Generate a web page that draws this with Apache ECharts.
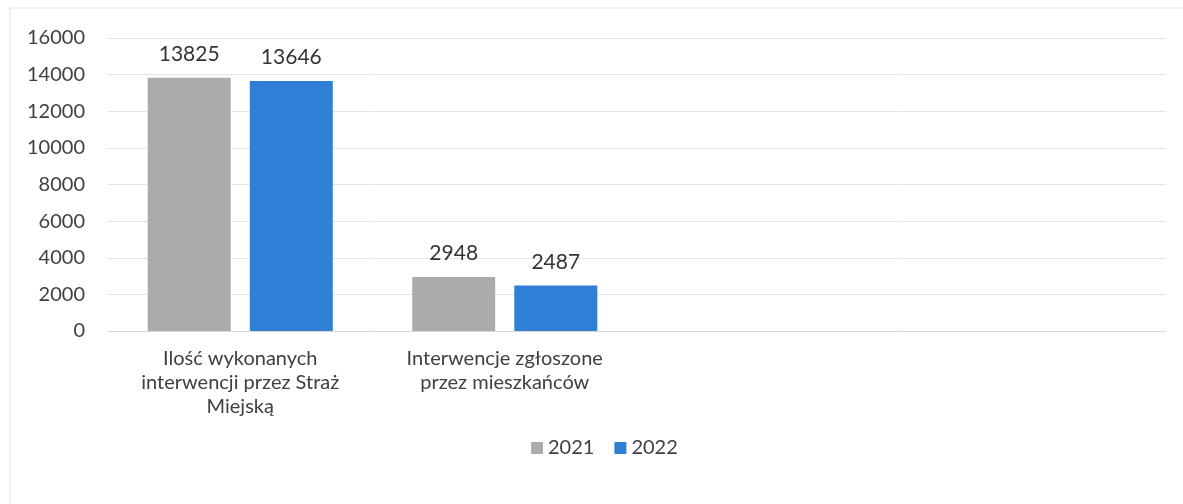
<!DOCTYPE html>
<html>
<head>
<meta charset="utf-8">
<script src="https://cdn.jsdelivr.net/npm/echarts@6/dist/echarts.min.js"></script>
<style>
  html, body { margin: 0; padding: 0; background: #fff; }
  #chart { width: 1183px; height: 504px; }
</style>
</head>
<body>
<div id="chart"></div>
<script>
// dane z wykresu
var categories = ['Ilość wykonanych\ninterwencji przez Straż\nMiejską', 'Interwencje zgłoszone\nprzez mieszkańców', '', ''];
var values2021 = [13825, 2948, null, null];
var values2022 = [13646, 2487, null, null];
var seriesNames = ['2021', '2022'];
var yTicks = { min: 0, max: 16000, interval: 2000 };

var font = 'Lato, "Open Sans", sans-serif';
var chart = echarts.init(document.getElementById('chart'));

var option = {
  backgroundColor: '#fff',
  animation: false,
  graphic: [{
    type: 'rect',
    shape: { x: 10, y: 8, width: 1200, height: 520 },
    style: { fill: 'none', stroke: '#e3e3e3', lineWidth: 1 }
  }],
  grid: { left: 108, right: 17, top: 38, bottom: 173 },
  legend: {
    top: 433,
    left: 526,
    itemWidth: 12,
    itemHeight: 12,
    itemGap: 20,
    icon: 'rect',
    textStyle: { fontFamily: font, fontSize: 20, color: '#404040' },
    data: seriesNames
  },
  xAxis: {
    type: 'category',
    data: categories,
    axisLine: { lineStyle: { color: '#d9d9d9' } },
    axisTick: { show: false },
    axisLabel: {
      interval: 0,
      margin: 16,
      fontFamily: font,
      fontSize: 20,
      lineHeight: 24,
      color: '#404040'
    }
  },
  yAxis: {
    type: 'value',
    min: yTicks.min,
    max: yTicks.max,
    interval: yTicks.interval,
    axisLine: { show: false },
    axisTick: { show: false },
    splitLine: { lineStyle: { color: '#e4e4e4' } },
    axisLabel: {
      margin: 23, fontFamily: font, fontSize: 20, color: '#404040',
      formatter: function (v) { return String(v); }
    }
  },
  series: [
    {
      name: seriesNames[0],
      type: 'bar',
      data: values2021,
      barWidth: 83,
      barGap: '23%',
      itemStyle: { color: '#ababab' },
      label: {
        show: true, position: 'top', distance: 13,
        fontFamily: font, fontSize: 21, color: '#333'
      }
    },
    {
      name: seriesNames[1],
      type: 'bar',
      data: values2022,
      barWidth: 83,
      itemStyle: { color: '#2f7fd6' },
      label: {
        show: true, position: 'top', distance: 13,
        fontFamily: font, fontSize: 21, color: '#333'
      }
    }
  ]
};

chart.setOption(option);
</script>
</body>
</html>
